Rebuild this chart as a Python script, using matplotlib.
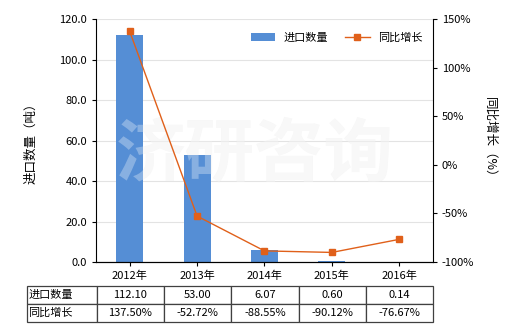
import matplotlib
matplotlib.use('Agg')
import matplotlib.pyplot as plt

plt.rcParams['font.family'] = ['Noto Sans CJK SC', 'DejaVu Sans']

years = ['2012年', '2013年', '2014年', '2015年', '2016年']
qty = [112.10, 53.00, 6.07, 0.60, 0.14]
growth = [137.50, -52.72, -88.55, -90.12, -76.67]
qty_labels = ['112.10', '53.00', '6.07', '0.60', '0.14']
growth_labels = ['137.50%', '-52.72%', '-88.55%', '-90.12%', '-76.67%']

bar_color = '#558ED5'
line_color = '#E0601A'

fig = plt.figure(figsize=(5.2, 3.3), dpi=100)
ax = fig.add_axes([0.1846, 0.206, 0.648, 0.736])
x = range(len(years))

ax.bar(x, qty, width=0.4, color=bar_color, label='进口数量', zorder=2)
ax.set_ylim(0, 120)
ax.set_yticks([0, 20, 40, 60, 80, 100, 120])
ax.set_yticklabels(['%.1f' % v for v in [0, 20, 40, 60, 80, 100, 120]], fontsize=8)
ax.set_xlim(-0.5, len(years) - 0.5)
ax.set_xticks(list(x))
ax.set_xticklabels(years, fontsize=8)
ax.grid(axis='y', color='#e3e3e3', linewidth=0.8, zorder=0)
ax.spines['top'].set_visible(False)
ax.spines['right'].set_visible(False)
ax.tick_params(axis='both', length=3, width=0.8)
ax.set_ylabel('进口数量（吨）', fontsize=9, labelpad=16)

# faint watermark, behind bars on white, lighter on top of bars
ax.text(0.47, 0.44, '济研咨询', transform=ax.transAxes, fontsize=50, color='#f5f5f5',
        ha='center', va='center', fontweight='bold', zorder=1)

ax2 = ax.twinx()
ax2.plot(x, growth, color=line_color, linewidth=1, marker='s', markersize=4, label='同比增长', zorder=3)
ax2.set_ylim(-100, 150)
ax2.set_yticks([-100, -50, 0, 50, 100, 150])
ax2.set_yticklabels(['%d%%' % v for v in [-100, -50, 0, 50, 100, 150]], fontsize=8)
ax2.spines['top'].set_visible(False)
ax2.spines['left'].set_visible(False)
ax2.tick_params(axis='y', length=3, width=0.8)
ax2.set_ylabel('同比增长（%）', fontsize=9, rotation=-90, labelpad=16)

ax2.text(0.47, 0.44, '济研咨询', transform=ax.transAxes, fontsize=50, color='#ffffff', alpha=0.3,
         ha='center', va='center', fontweight='bold', zorder=1)

h1, l1 = ax.get_legend_handles_labels()
h2, l2 = ax2.get_legend_handles_labels()
ax2.legend(h1 + h2, l1 + l2, loc='upper right', bbox_to_anchor=(1.0, 0.985), ncol=2,
           frameon=False, fontsize=8, handlelength=2.2, columnspacing=1.5)

cells = [['进口数量'] + qty_labels, ['同比增长'] + growth_labels]
tbl = ax.table(cellText=cells, cellLoc='center',
               colWidths=[70 / 406.6] + [67.3 / 406.6] * 5,
               bbox=[-0.2056, -0.2457, 1.2066, 0.148])
tbl.auto_set_font_size(False)
for (r, c), cell in tbl.get_celld().items():
    cell.set_edgecolor('#404040')
    cell.set_linewidth(0.9)
    cell.get_text().set_fontsize(8)
    if c == 0:
        cell.get_text().set_ha('left')
        cell._loc = 'left'
        cell.PAD = 0.02

fig.savefig('out.png', dpi=100)
